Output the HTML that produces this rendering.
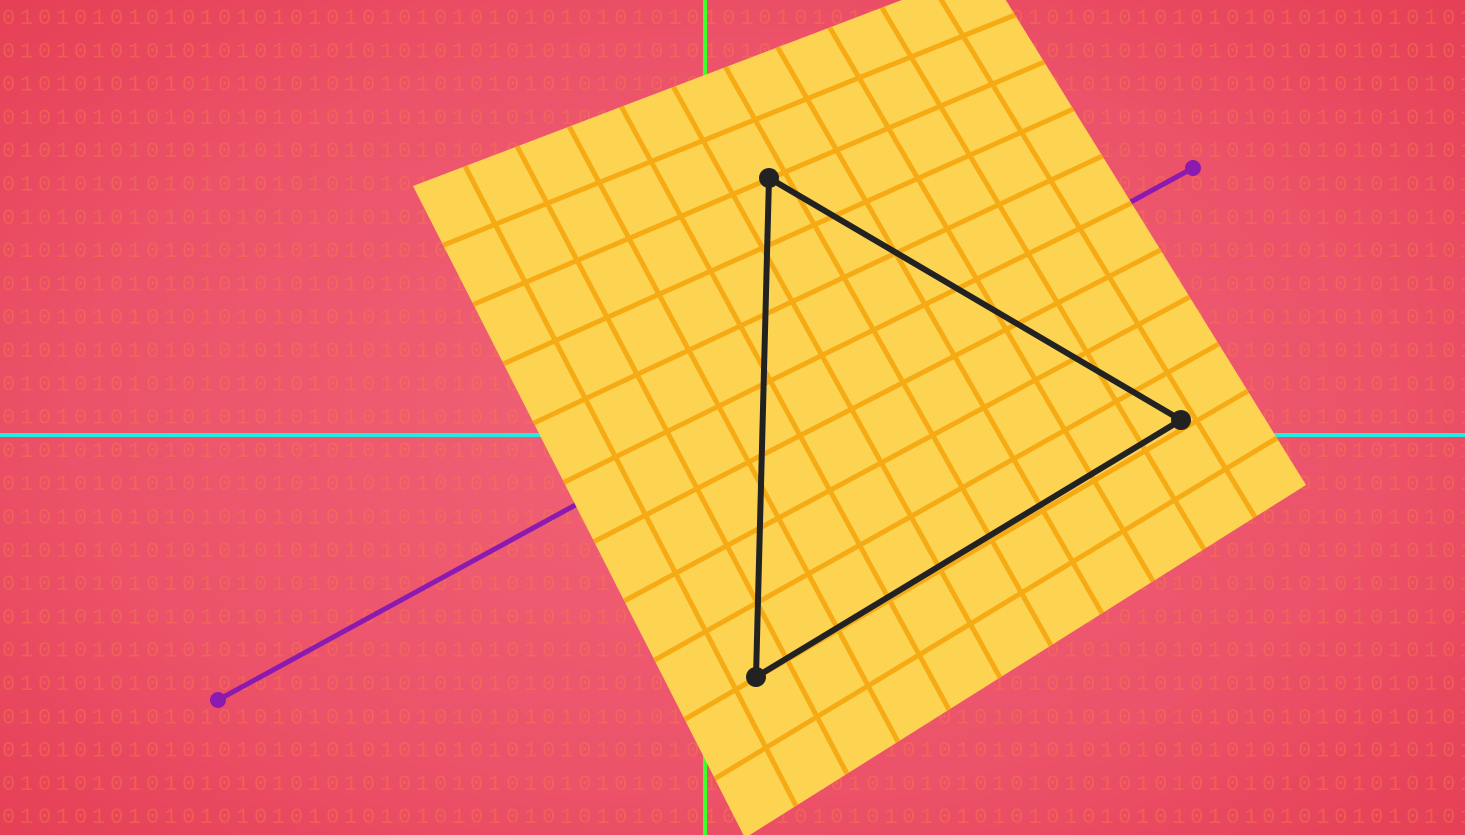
<!DOCTYPE html>
<html><head><meta charset="utf-8"><style>
html,body{margin:0;padding:0;width:1465px;height:835px;overflow:hidden}
svg{display:block}
</style></head><body>
<svg width="1465" height="835" viewBox="0 0 1465 835" xmlns="http://www.w3.org/2000/svg">
<defs>
<radialGradient id="bg" cx="0.5" cy="0.5" r="0.75">
<stop offset="0" stop-color="#f06478"/>
<stop offset="0.6" stop-color="#ec5269"/>
<stop offset="1" stop-color="#e43c52"/>
</radialGradient>
</defs>
<rect width="1465" height="835" fill="url(#bg)"/>
<g id="binary" font-family="Liberation Mono, monospace" font-size="22" fill="#f77a4a" fill-opacity="0.45" letter-spacing="4.8"></g>
<line x1="705" y1="0" x2="705" y2="835" stroke="#3dff2a" stroke-width="4"/>
<line x1="0" y1="435" x2="1465" y2="435" stroke="#22ece2" stroke-width="4"/>
<line x1="218" y1="700" x2="1193" y2="168" stroke="#8b1ab0" stroke-width="5"/>
<circle cx="218" cy="700" r="8" fill="#8b1ab0"/>
<circle cx="1193" cy="168" r="8" fill="#8b1ab0"/>
<polygon points="413,186 986,-32 1306,485 745,838" fill="#fcd452"/>
<g id="grid" stroke="#f6ab14" stroke-width="5"></g>
<polygon points="769,178 1181,420 756,677" fill="none" stroke="#222" stroke-width="6" stroke-linejoin="round"/>
<circle cx="769" cy="178" r="10" fill="#222"/>
<circle cx="1181" cy="420" r="10" fill="#222"/>
<circle cx="756" cy="677" r="10" fill="#222"/>
</svg>
<script>
var NS='http://www.w3.org/2000/svg';
var row='01010101010101010101010101010101010101010101010101010101010101010101010101010101010101';
var bin=document.getElementById('binary');
for(var r=0;r<26;r++){
  var t=document.createElementNS(NS,'text');
  
  
  t.setAttribute('x','2');
  t.setAttribute('y',String(24+r*33.3));
  t.textContent=row;
  bin.appendChild(t);
}
var A=[413,186],B=[986,-32],C=[1306,485],D=[745,838];
function lerp(p,q,t){return [p[0]+(q[0]-p[0])*t,p[1]+(q[1]-p[1])*t];}
var g=document.getElementById('grid');
var N=11;
for(var i=1;i<N;i++){
  var f=i/N;
  var p1=lerp(A,B,f),p2=lerp(D,C,f);
  var l=document.createElementNS(NS,'line');
  
  
  l.setAttribute('x1',p1[0]);l.setAttribute('y1',p1[1]);l.setAttribute('x2',p2[0]);l.setAttribute('y2',p2[1]);
  g.appendChild(l);
  var q1=lerp(A,D,f),q2=lerp(B,C,f);
  var m=document.createElementNS(NS,'line');
  
  
  m.setAttribute('x1',q1[0]);m.setAttribute('y1',q1[1]);m.setAttribute('x2',q2[0]);m.setAttribute('y2',q2[1]);
  g.appendChild(m);
}
</script>
</body></html>
